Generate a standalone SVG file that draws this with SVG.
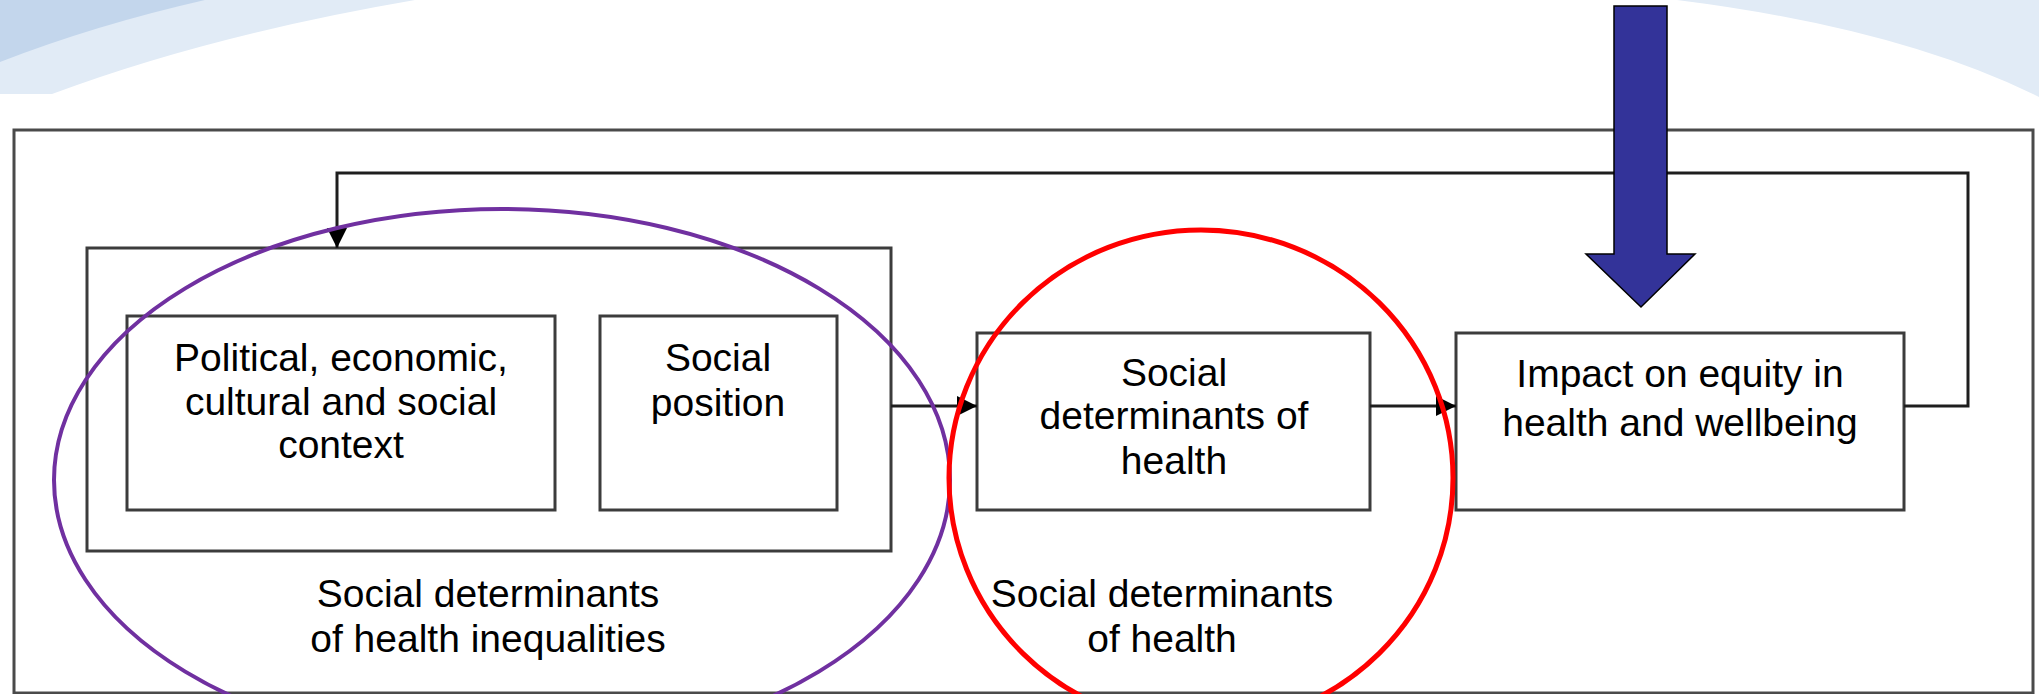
<svg xmlns="http://www.w3.org/2000/svg" width="2039" height="694" viewBox="0 0 2039 694">
<style>
.box{fill:#fff;stroke:#3c3c3c;stroke-width:3}
.conn{fill:none;stroke:#1e1e1e;stroke-width:3}
.t{font-family:"Liberation Sans",Arial,sans-serif;font-size:39px;fill:#000;text-anchor:middle}
</style>
<defs>
<marker id="ah" viewBox="0 0 10 10" refX="10" refY="5" markerWidth="20" markerHeight="20" markerUnits="userSpaceOnUse" orient="auto">
<path d="M0,0 L10,5 L0,10 Z" fill="#000"/>
</marker>
</defs>
<rect x="0" y="0" width="2039" height="694" fill="#fff"/>
<g id="background">
<path d="M0,0 L415,0 Q210,35 52,94 L0,94 Z" fill="#e1ebf6"/>
<path d="M0,0 L205,0 Q95,25 0,62 Z" fill="#c3d6ec"/>
<path d="M1677,0 Q1900,28 2039,97 L2039,0 Z" fill="#e1ebf6"/>
</g>
<g id="frame">
<rect x="14" y="130" width="2019" height="563" fill="none" stroke="#4a4a4a" stroke-width="3"/>
</g>
<g id="group-sdhi">
<rect class="box" x="87" y="248" width="804" height="303"/>
</g>
<g id="node-political">
<rect class="box" x="127" y="316" width="428" height="194"/>
<text class="t" x="341" y="371">Political, economic,</text>
<text class="t" x="341" y="415">cultural and social</text>
<text class="t" x="341" y="458">context</text>
</g>
<g id="node-position">
<rect class="box" x="600" y="316" width="237" height="194"/>
<text class="t" x="718" y="371">Social</text>
<text class="t" x="718" y="416">position</text>
</g>
<g id="node-sdh">
<rect class="box" x="977" y="333" width="393" height="177"/>
<text class="t" x="1174" y="386">Social</text>
<text class="t" x="1174" y="429">determinants of</text>
<text class="t" x="1174" y="474">health</text>
</g>
<g id="node-impact">
<rect class="box" x="1456" y="333" width="448" height="177"/>
<text class="t" x="1680" y="387">Impact on equity in</text>
<text class="t" x="1680" y="436">health and wellbeing</text>
</g>
<g id="connectors">
<line class="conn" x1="891" y1="406" x2="977" y2="406" marker-end="url(#ah)"/>
<line class="conn" x1="1370" y1="406" x2="1456" y2="406" marker-end="url(#ah)"/>
<polyline class="conn" points="1904,406 1968,406 1968,173 337,173 337,248" marker-end="url(#ah)"/>
</g>
<g id="label-sdhi">
<text class="t" x="488" y="607">Social determinants</text>
<text class="t" x="488" y="652">of health inequalities</text>
</g>
<g id="label-sdh">
<text class="t" x="1162" y="607">Social determinants</text>
<text class="t" x="1162" y="652">of health</text>
</g>
<g id="ellipses">
<ellipse cx="502" cy="480" rx="448" ry="271" fill="none" stroke="#7030a0" stroke-width="4"/>
<ellipse cx="1201" cy="478" rx="252" ry="248" fill="none" stroke="#ff0000" stroke-width="5"/>
</g>
<g id="blue-arrow">
<path d="M1614,6 L1667,6 L1667,254 L1695,254 L1641,307 L1586,254 L1614,254 Z" fill="#333399" stroke="#000" stroke-width="1.5"/>
</g>
</svg>
